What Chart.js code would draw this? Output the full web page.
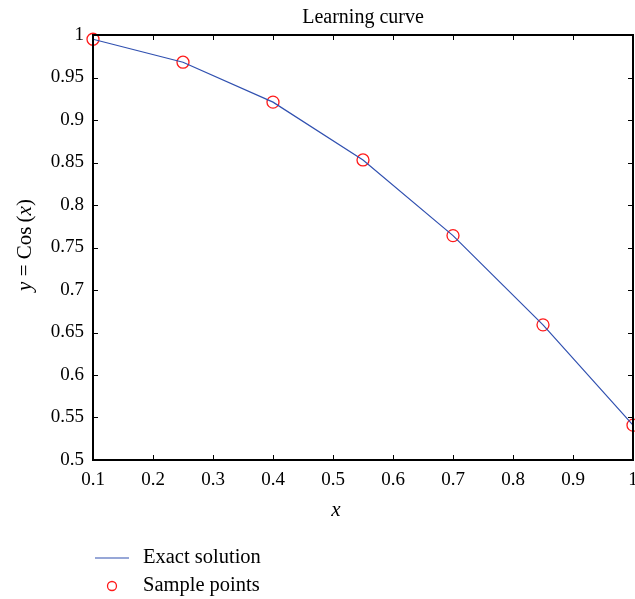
<!DOCTYPE html>
<html lang="en">
<head>
    <meta charset="UTF-8">
    <title>Learning curve</title>
    <script src="https://cdn.jsdelivr.net/npm/chart.js"></script>
    <style>
        html, body { margin: 0; padding: 0; background: #fff; overflow: hidden; }
        canvas { display: block; }
    </style>
</head>
<body>
<canvas id="chart" width="635" height="599"></canvas>
<script>
    // Werte
    const xValues = [0.1, 0.25, 0.4, 0.55, 0.7, 0.85, 1.0];
    const exactValues = [0.995, 0.968, 0.921, 0.853, 0.764, 0.659, 0.541];
    const sampleValues = [0.995, 0.968, 0.921, 0.853, 0.764, 0.659, 0.541];
    const xTicks = [0.1, 0.2, 0.3, 0.4, 0.5, 0.6, 0.7, 0.8, 0.9, 1];
    const yTicks = [0.5, 0.55, 0.6, 0.65, 0.7, 0.75, 0.8, 0.85, 0.9, 0.95, 1];

    const SERIF = '"Liberation Serif", "DejaVu Serif", serif';
    const LINE_COLOR = '#3050b0';
    const MARK_COLOR = '#ff1a1a';

    const fmt = v => String(Number(v.toFixed(2)));

    // Rahmen, Ticks nach innen, Achsentitel und Legende
    const framePlugin = {
        id: 'frame',
        afterDraw(chart) {
            const ctx = chart.ctx;
            const a = chart.chartArea;
            const xs = chart.scales.x, ys = chart.scales.y;
            ctx.save();
            ctx.strokeStyle = '#000';
            ctx.lineWidth = 1;
            xTicks.forEach(t => {
                const px = Math.round(xs.getPixelForValue(t)) + 0.5;
                ctx.beginPath();
                ctx.moveTo(px, a.bottom); ctx.lineTo(px, a.bottom - 5);
                ctx.moveTo(px, a.top); ctx.lineTo(px, a.top + 5);
                ctx.stroke();
            });
            yTicks.forEach(t => {
                const py = Math.round(ys.getPixelForValue(t)) + 0.5;
                ctx.beginPath();
                ctx.moveTo(a.left, py); ctx.lineTo(a.left + 5, py);
                ctx.moveTo(a.right, py); ctx.lineTo(a.right - 5, py);
                ctx.stroke();
            });
            ctx.lineWidth = 2;
            ctx.strokeRect(a.left, a.top, a.right - a.left, a.bottom - a.top);

            // x-Achsentitel
            ctx.fillStyle = '#000';
            ctx.textAlign = 'center';
            ctx.textBaseline = 'middle';
            ctx.font = 'italic 21px ' + SERIF;
            ctx.fillText('x', 336, 510);

            // y-Achsentitel: y = Cos(x)
            const parts = [
                ['italic 21px ' + SERIF, 'y'],
                ['21px ' + SERIF, ' = Cos\u2009('],
                ['italic 21px ' + SERIF, 'x'],
                ['21px ' + SERIF, ')']
            ];
            let total = 0;
            parts.forEach(p => { ctx.font = p[0]; total += ctx.measureText(p[1]).width; });
            ctx.translate(25, 245);
            ctx.rotate(-Math.PI / 2);
            ctx.textAlign = 'left';
            let cx = -total / 2;
            parts.forEach(p => {
                ctx.font = p[0];
                ctx.fillText(p[1], cx, 0);
                cx += ctx.measureText(p[1]).width;
            });
            ctx.restore();

            // Legende
            ctx.save();
            ctx.strokeStyle = LINE_COLOR;
            ctx.lineWidth = 1.2;
            ctx.beginPath();
            ctx.moveTo(95, 558); ctx.lineTo(129, 558);
            ctx.stroke();
            ctx.strokeStyle = MARK_COLOR;
            ctx.lineWidth = 1.3;
            ctx.beginPath();
            ctx.arc(112, 586, 4.5, 0, Math.PI * 2);
            ctx.stroke();
            ctx.fillStyle = '#000';
            ctx.font = '20.5px ' + SERIF;
            ctx.textAlign = 'left';
            ctx.textBaseline = 'middle';
            ctx.fillText(chart.data.datasets[0].label, 143, 558);
            ctx.fillText(chart.data.datasets[1].label, 143, 586);
            ctx.restore();
        }
    };

    const ctx = document.getElementById('chart');
    new Chart(ctx, {
        type: 'scatter',
        data: {
            datasets: [
                {
                    label: 'Exact solution',
                    data: xValues.map((x, i) => ({ x: x, y: exactValues[i] })),
                    showLine: true,
                    borderColor: LINE_COLOR,
                    borderWidth: 1.2,
                    pointRadius: 0,
                    tension: 0,
                    clip: false
                },
                {
                    label: 'Sample points',
                    data: xValues.map((x, i) => ({ x: x, y: sampleValues[i] })),
                    showLine: false,
                    pointStyle: 'circle',
                    pointRadius: 6,
                    pointBorderWidth: 1.3,
                    pointBorderColor: MARK_COLOR,
                    pointBackgroundColor: 'rgba(0,0,0,0)',
                    clip: false
                }
            ]
        },
        options: {
            responsive: false,
            animation: false,
            layout: { autoPadding: false, padding: { left: 0, right: 2, top: 0, bottom: 0 } },
            plugins: {
                legend: { display: false },
                tooltip: { enabled: false },
                title: {
                    display: true,
                    text: 'Learning curve',
                    fullSize: false,
                    color: '#000',
                    font: { family: SERIF, size: 20, weight: 'normal' },
                    padding: { top: 6, bottom: 5 }
                }
            },
            scales: {
                x: {
                    type: 'linear',
                    min: 0.1,
                    max: 1,
                    afterFit: s => { s.height = 139; s.paddingLeft = 0; s.paddingRight = 0; },
                    afterBuildTicks: s => { s.ticks = xTicks.map(v => ({ value: v })); },
                    grid: { display: false, drawTicks: false },
                    border: { display: false },
                    ticks: {
                        color: '#000',
                        padding: 9,
                        maxRotation: 0,
                        font: { family: SERIF, size: 19 },
                        callback: v => fmt(v)
                    }
                },
                y: {
                    type: 'linear',
                    min: 0.5,
                    max: 1,
                    afterFit: s => { s.width = 93; s.paddingTop = 0; s.paddingBottom = 0; },
                    afterBuildTicks: s => { s.ticks = yTicks.map(v => ({ value: v })); },
                    grid: { display: false, drawTicks: false },
                    border: { display: false },
                    ticks: {
                        color: '#000',
                        padding: 9,
                        font: { family: SERIF, size: 19 },
                        callback: v => fmt(v)
                    }
                }
            }
        },
        plugins: [framePlugin]
    });
</script>
</body>
</html>
